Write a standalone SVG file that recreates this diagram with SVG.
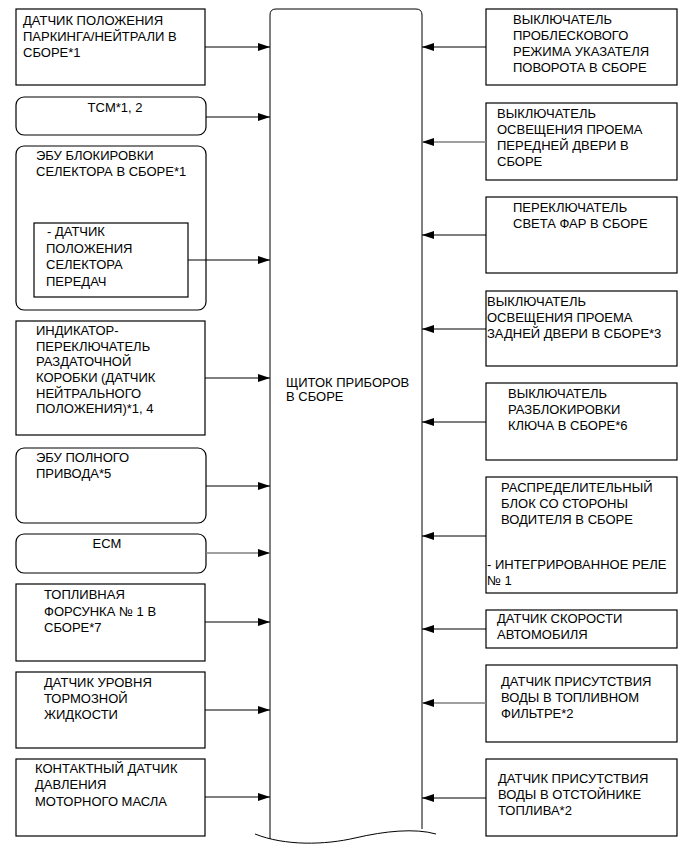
<svg xmlns="http://www.w3.org/2000/svg" width="691" height="854" viewBox="0 0 691 854">
<style>
text{font-family:"Liberation Sans",Arial,sans-serif;font-size:13px;fill:#000}
.b{fill:#fff;stroke:#000;stroke-width:1.2}
.c{stroke:#000;stroke-width:1;fill:none}
.g{stroke:#808080;stroke-width:1.3;fill:none}
.m{text-anchor:middle}
</style>
<defs>
<marker id="ah" markerUnits="userSpaceOnUse" markerWidth="12" markerHeight="8" refX="12" refY="4" orient="auto">
<path d="M0,0 L12,4 L0,8 Z" fill="#000"/>
</marker>
</defs>
<rect width="691" height="854" fill="#fff"/>

<g id="cluster">
<path class="c" d="M270,839 L270,15 Q270,9 276,9 L416,9 Q422,9 422,15 L422,829" stroke-width="1.2"/>
<path class="c" d="M255,834 C285,846 325,845 355,838 S415,828 436,834" stroke-width="1.2"/>
<text x="286" y="387">ЩИТОК ПРИБОРОВ</text>
<text x="286" y="401">В СБОРЕ</text>
</g>

<g id="l1">
<rect class="b" x="16" y="9" width="189" height="76"/>
<text x="23" y="25">ДАТЧИК ПОЛОЖЕНИЯ</text>
<text x="23" y="41">ПАРКИНГА/НЕЙТРАЛИ В</text>
<text x="23" y="57">СБОРЕ*1</text>
</g>
<g id="l2">
<rect class="b" x="16" y="97" width="190" height="38" rx="8"/>
<text class="m" x="115" y="112">TCM*1, 2</text>
</g>
<g id="l3">
<rect class="b" x="16" y="146" width="190" height="164" rx="8"/>
<text x="36" y="160">ЭБУ БЛОКИРОВКИ</text>
<text x="36" y="176">СЕЛЕКТОРА В СБОРЕ*1</text>
<g id="l3a">
<rect class="b" x="34" y="223" width="154" height="74"/>
<text x="47" y="236">- ДАТЧИК</text>
<text x="46" y="253">ПОЛОЖЕНИЯ</text>
<text x="46" y="269">СЕЛЕКТОРА</text>
<text x="46" y="286">ПЕРЕДАЧ</text>
</g>
</g>
<g id="l4">
<rect class="b" x="16" y="321" width="189" height="114"/>
<text x="36" y="335">ИНДИКАТОР-</text>
<text x="36" y="351">ПЕРЕКЛЮЧАТЕЛЬ</text>
<text x="36" y="366">РАЗДАТОЧНОЙ</text>
<text x="36" y="382">КОРОБКИ (ДАТЧИК</text>
<text x="36" y="398">НЕЙТРАЛЬНОГО</text>
<text x="36" y="413">ПОЛОЖЕНИЯ)*1, 4</text>
</g>
<g id="l5">
<rect class="b" x="16" y="448" width="190" height="75" rx="8"/>
<text x="36" y="462">ЭБУ ПОЛНОГО</text>
<text x="36" y="478">ПРИВОДА*5</text>
</g>
<g id="l6">
<rect class="b" x="16" y="534" width="190" height="39" rx="8"/>
<text class="m" x="107" y="548">ECM</text>
</g>
<g id="l7">
<rect class="b" x="16" y="584" width="189" height="77"/>
<text x="44" y="599">ТОПЛИВНАЯ</text>
<text x="44" y="616">ФОРСУНКА № 1 В</text>
<text x="44" y="632">СБОРЕ*7</text>
</g>
<g id="l8">
<rect class="b" x="16" y="672" width="189" height="76"/>
<text x="44" y="687">ДАТЧИК УРОВНЯ</text>
<text x="44" y="703">ТОРМОЗНОЙ</text>
<text x="44" y="719">ЖИДКОСТИ</text>
</g>
<g id="l9">
<rect class="b" x="16" y="759" width="189" height="77"/>
<text x="35" y="773">КОНТАКТНЫЙ ДАТЧИК</text>
<text x="35" y="789">ДАВЛЕНИЯ</text>
<text x="35" y="806">МОТОРНОГО МАСЛА</text>
</g>

<g id="r1">
<rect class="b" x="486" y="9" width="191" height="76"/>
<text x="513" y="24">ВЫКЛЮЧАТЕЛЬ</text>
<text x="513" y="40">ПРОБЛЕСКОВОГО</text>
<text x="513" y="56">РЕЖИМА УКАЗАТЕЛЯ</text>
<text x="513" y="72">ПОВОРОТА В СБОРЕ</text>
</g>
<g id="r2">
<rect class="b" x="486" y="103" width="191" height="77"/>
<text x="497" y="118">ВЫКЛЮЧАТЕЛЬ</text>
<text x="497" y="134">ОСВЕЩЕНИЯ ПРОЕМА</text>
<text x="497" y="150">ПЕРЕДНЕЙ ДВЕРИ В</text>
<text x="497" y="166">СБОРЕ</text>
</g>
<g id="r3">
<rect class="b" x="486" y="197" width="191" height="76"/>
<text x="513" y="212">ПЕРЕКЛЮЧАТЕЛЬ</text>
<text x="513" y="228">СВЕТА ФАР В СБОРЕ</text>
</g>
<g id="r4">
<rect class="b" x="486" y="291" width="191" height="75"/>
<text x="487" y="306">ВЫКЛЮЧАТЕЛЬ</text>
<text x="487" y="322">ОСВЕЩЕНИЯ ПРОЕМА</text>
<text x="487" y="338">ЗАДНЕЙ ДВЕРИ В СБОРЕ*3</text>
</g>
<g id="r5">
<rect class="b" x="486" y="383" width="191" height="77"/>
<text x="508" y="398">ВЫКЛЮЧАТЕЛЬ</text>
<text x="508" y="414">РАЗБЛОКИРОВКИ</text>
<text x="508" y="430">КЛЮЧА В СБОРЕ*6</text>
</g>
<g id="r6">
<rect class="b" x="486" y="477" width="191" height="116"/>
<text x="501" y="492">РАСПРЕДЕЛИТЕЛЬНЫЙ</text>
<text x="501" y="508">БЛОК СО СТОРОНЫ</text>
<text x="501" y="524">ВОДИТЕЛЯ В СБОРЕ</text>
<text x="487" y="569">- ИНТЕГРИРОВАННОЕ РЕЛЕ</text>
<text x="487" y="585">№ 1</text>
</g>
<g id="r7">
<rect class="b" x="486" y="610" width="191" height="38"/>
<text x="497" y="623">ДАТЧИК СКОРОСТИ</text>
<text x="497" y="639">АВТОМОБИЛЯ</text>
</g>
<g id="r8">
<rect class="b" x="486" y="665" width="191" height="77"/>
<text x="501" y="686">ДАТЧИК ПРИСУТСТВИЯ</text>
<text x="501" y="702">ВОДЫ В ТОПЛИВНОМ</text>
<text x="501" y="718">ФИЛЬТРЕ*2</text>
</g>
<g id="r9">
<rect class="b" x="486" y="759" width="191" height="77"/>
<text x="498" y="783">ДАТЧИК ПРИСУТСТВИЯ</text>
<text x="498" y="799">ВОДЫ В ОТСТОЙНИКЕ</text>
<text x="498" y="815">ТОПЛИВА*2</text>
</g>

<g id="connectors">
<line class="c" x1="205" y1="47" x2="270" y2="47" marker-end="url(#ah)"/>
<line class="c" x1="206" y1="117" x2="270" y2="117" marker-end="url(#ah)"/>
<line class="c" x1="188" y1="260" x2="270" y2="260" marker-end="url(#ah)"/>
<line class="c" x1="205" y1="378" x2="270" y2="378" marker-end="url(#ah)"/>
<line class="c" x1="206" y1="486" x2="270" y2="486" marker-end="url(#ah)"/>
<line class="g" x1="206" y1="553" x2="270" y2="553" marker-end="url(#ah)"/>
<line class="c" x1="205" y1="622" x2="270" y2="622" marker-end="url(#ah)"/>
<line class="c" x1="205" y1="710" x2="270" y2="710" marker-end="url(#ah)"/>
<line class="c" x1="205" y1="797" x2="270" y2="797" marker-end="url(#ah)"/>
<line class="c" x1="486" y1="47" x2="422" y2="47" marker-end="url(#ah)"/>
<line class="g" x1="486" y1="142" x2="422" y2="142" marker-end="url(#ah)"/>
<line class="c" x1="486" y1="235" x2="422" y2="235" marker-end="url(#ah)"/>
<line class="c" x1="486" y1="329" x2="422" y2="329" marker-end="url(#ah)"/>
<line class="c" x1="486" y1="422" x2="422" y2="422" marker-end="url(#ah)"/>
<line class="c" x1="486" y1="536" x2="422" y2="536" marker-end="url(#ah)"/>
<line class="c" x1="486" y1="629" x2="422" y2="629" marker-end="url(#ah)"/>
<line class="g" x1="486" y1="703" x2="422" y2="703" marker-end="url(#ah)"/>
<line class="c" x1="486" y1="798" x2="422" y2="798" marker-end="url(#ah)"/>
</g>
</svg>
